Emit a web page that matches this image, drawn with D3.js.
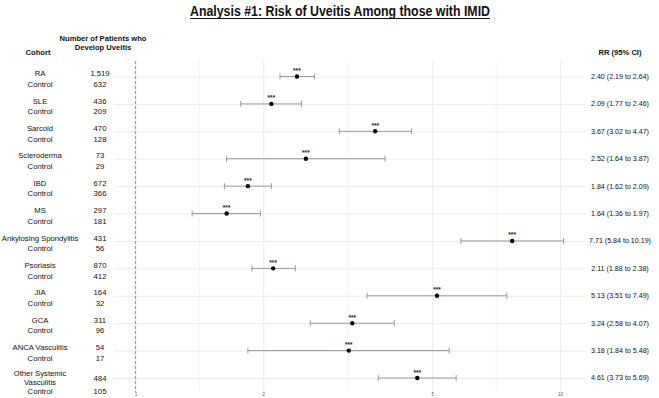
<!DOCTYPE html>
<html>
<head>
<meta charset="utf-8">
<script src="https://cdn.jsdelivr.net/npm/d3@7"></script>
<style>
  body { margin: 0; background: #fff; }
  text { font-family: "Liberation Sans", Arial, sans-serif; }
</style>
</head>
<body>
<div id="forest"></div>
<script>
// data
var cohorts = ["RA", "SLE", "Sarcoid", "Scleroderma", "IBD", "MS", "Ankylosing Spondylitis",
               "Psoriasis", "JIA", "GCA", "ANCA Vasculitis", "Other Systemic Vasculitis"];
var caseCounts = ["1,519", "436", "470", "73", "672", "297", "431", "870", "164", "311", "54", "484"];
var controlCounts = ["632", "209", "128", "29", "366", "181", "56", "412", "32", "96", "17", "105"];
var rr = [2.40, 2.09, 3.67, 2.52, 1.84, 1.64, 7.71, 2.11, 5.13, 3.24, 3.18, 4.61];
var rrLow = [2.19, 1.77, 3.02, 1.64, 1.62, 1.36, 5.84, 1.88, 3.51, 2.58, 1.84, 3.73];
var rrHigh = [2.64, 2.46, 4.47, 3.87, 2.09, 1.97, 10.19, 2.38, 7.49, 4.07, 5.48, 5.69];
var signif = ["***", "***", "***", "***", "***", "***", "***", "***", "***", "***", "***", "***"];
var xTicks = [1, 2, 5, 10];

var width = 659, height = 398;
var panel = {left: 114, right: 585, top: 61, bottom: 391};

var svg = d3.select("#forest")
  .append("svg")
    .attr("width", width)
    .attr("height", height);

var data = cohorts.map(function(c, i) {
  return {cohort: c, cases: caseCounts[i], controls: controlCounts[i],
          rr: rr[i], lo: rrLow[i], hi: rrHigh[i], sig: signif[i]};
});

// log x scale, expanded 5% like ggplot
var lmin = 0, lmax = Math.log10(d3.max(rrHigh));
var pad = (lmax - lmin) * 0.05;
var x = d3.scaleLog()
  .domain([Math.pow(10, lmin - pad), Math.pow(10, lmax + pad)])
  .range([panel.left, panel.right]);

var y = d3.scalePoint()
  .domain(cohorts)
  .range([76.5, 378]);

// title
svg.append("text")
  .attr("x", 340)
  .attr("y", 16)
  .attr("text-anchor", "middle")
  .attr("font-size", 14)
  .attr("font-weight", "bold")
  .attr("textLength", 300)
  .attr("lengthAdjust", "spacingAndGlyphs")
  .attr("fill", "#111")
  .text("Analysis #1: Risk of Uveitis Among those with IMID");
svg.append("line")
  .attr("x1", 190).attr("x2", 490)
  .attr("y1", 18.5).attr("y2", 18.5)
  .attr("stroke", "#111")
  .attr("stroke-width", 1);

// column headers
var hdr = svg.append("g")
  .attr("font-size", 7.6)
  .attr("font-weight", "bold")
  .attr("text-anchor", "middle")
  .attr("fill", "#111");
hdr.append("text").attr("x", 38).attr("y", 55).text("Cohort");
hdr.append("text").attr("x", 103).attr("y", 41).text("Number of Patients who");
hdr.append("text").attr("x", 103).attr("y", 50).text("Develop Uveitis");
hdr.append("text").attr("x", 620).attr("y", 55).text("RR (95% CI)");

// grid: minor lines halfway between breaks (log space)
var minor = [];
for (var i = 0; i < xTicks.length - 1; i++) {
  minor.push(Math.sqrt(xTicks[i] * xTicks[i + 1]));
}
svg.selectAll(".minor")
  .data(minor)
  .enter()
  .append("line")
    .attr("x1", function(d) { return x(d); })
    .attr("x2", function(d) { return x(d); })
    .attr("y1", panel.top).attr("y2", panel.bottom)
    .attr("stroke", "#f0f0f0")
    .attr("stroke-width", 0.7);

svg.append("g")
  .attr("transform", "translate(0," + panel.bottom + ")")
  .call(d3.axisBottom(x).tickValues(xTicks).tickFormat(d3.format("d"))
          .tickSize(-(panel.bottom - panel.top)).tickPadding(1.5))
  .call(function(g) { g.select(".domain").remove(); })
  .call(function(g) {
    g.selectAll(".tick line").attr("stroke", "#ebebeb").attr("stroke-width", 1);
    g.selectAll(".tick text").attr("font-size", 4.5).attr("fill", "#555")
      .attr("font-family", "Liberation Sans, Arial, sans-serif");
  });

svg.append("g")
  .attr("transform", "translate(" + panel.left + ",0)")
  .call(d3.axisLeft(y).tickSize(-(panel.right - panel.left)).tickFormat(""))
  .call(function(g) { g.select(".domain").remove(); })
  .call(function(g) {
    g.selectAll(".tick line").attr("stroke", "#ebebeb").attr("stroke-width", 1);
  });

// reference line at RR = 1
svg.append("line")
  .attr("x1", x(1)).attr("x2", x(1))
  .attr("y1", panel.top).attr("y2", panel.bottom + 1)
  .attr("stroke", "#ff6b6b")
  .attr("stroke-width", 1)
  .attr("stroke-dasharray", "3,2");

// error bars
var rows = svg.selectAll(".row")
  .data(data)
  .enter()
  .append("g");

rows.append("line")
  .attr("x1", function(d) { return x(d.lo); })
  .attr("x2", function(d) { return x(d.hi); })
  .attr("y1", function(d) { return y(d.cohort); })
  .attr("y2", function(d) { return y(d.cohort); })
  .attr("stroke", "#9a9a9a")
  .attr("stroke-width", 1);
["lo", "hi"].forEach(function(k) {
  rows.append("line")
    .attr("x1", function(d) { return x(d[k]); })
    .attr("x2", function(d) { return x(d[k]); })
    .attr("y1", function(d) { return y(d.cohort) - 3; })
    .attr("y2", function(d) { return y(d.cohort) + 3; })
    .attr("stroke", "#9a9a9a")
    .attr("stroke-width", 1);
});
rows.append("circle")
  .attr("cx", function(d) { return x(d.rr); })
  .attr("cy", function(d) { return y(d.cohort); })
  .attr("r", 2.2)
  .attr("fill", "#000");
rows.append("text")
  .attr("x", function(d) { return x(d.rr); })
  .attr("y", function(d) { return y(d.cohort) - 3.5; })
  .attr("text-anchor", "middle")
  .attr("font-size", 6.5)
  .attr("font-weight", "bold")
  .attr("fill", "#222")
  .text(function(d) { return d.sig; });

// left table
var tbl = svg.append("g")
  .attr("font-size", 7.7)
  .attr("text-anchor", "middle")
  .attr("fill", "#111");

data.forEach(function(d) {
  var yy = y(d.cohort);
  var words = d.cohort === "Other Systemic Vasculitis" ? ["Other Systemic", "Vasculitis"] : [d.cohort];
  var two = words.length > 1;
  var top = two ? yy - 5 : yy - 3;
  words.forEach(function(w, j) {
    tbl.append("text").attr("x", 40).attr("y", top + j * 9).attr("dy", "0.35em").text(w);
  });
  var ctrlY = two ? yy + 13 : yy + 7.5;
  var numY = two ? yy : yy - 3;
  tbl.append("text").attr("x", 40).attr("y", ctrlY).attr("dy", "0.35em").text("Control");
  tbl.append("text").attr("x", 100).attr("y", numY).attr("dy", "0.35em").text(d.cases);
  tbl.append("text").attr("x", 100).attr("y", ctrlY).attr("dy", "0.35em").text(d.controls);
});

// right column RR text
svg.append("g")
  .attr("font-size", 7.1)
  .attr("text-anchor", "middle")
  .attr("fill", "#111")
  .selectAll("text")
  .data(data)
  .enter()
  .append("text")
    .attr("x", 620)
    .attr("y", function(d) { return y(d.cohort); })
    .attr("dy", "0.35em")
    .text(function(d) { return d.rr.toFixed(2) + " (" + d.lo.toFixed(2) + " to " + d.hi.toFixed(2) + ")"; });
</script>
</body>
</html>
